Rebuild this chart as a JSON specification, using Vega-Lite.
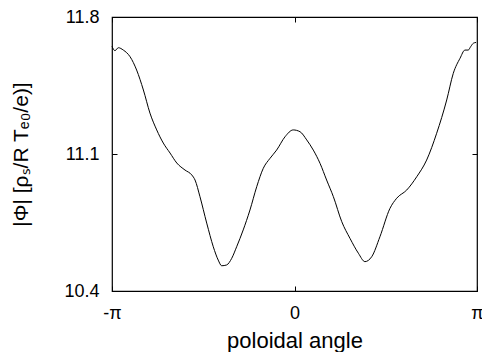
{
  "$schema": "https://vega.github.io/schema/vega-lite/v6.json",
  "autosize": "none",
  "width": 365,
  "height": 274,
  "padding": {"left": 112, "top": 17, "right": 5, "bottom": 61},
  "background": "white",
  "config": {
    "view": {"stroke": "#000", "strokeWidth": 1.2},
    "font": "Liberation Sans",
    "axis": {
      "domain": false,
      "grid": false,
      "tickColor": "#000",
      "tickSize": -5,
      "tickWidth": 1,
      "labelFont": "Liberation Sans",
      "labelFontSize": 18,
      "labelColor": "#000",
      "titleFont": "Liberation Sans",
      "titleFontSize": 21,
      "titleFontWeight": "normal",
      "titleColor": "#000",
      "labelFlush": false,
      "labelOverlap": false
    }
  },
  "data": {
    "values": [
      {"angle_over_pi": -1.000, "phi": 11.650},
      {"angle_over_pi": -0.984, "phi": 11.628},
      {"angle_over_pi": -0.965, "phi": 11.643},
      {"angle_over_pi": -0.938, "phi": 11.631},
      {"angle_over_pi": -0.901, "phi": 11.597},
      {"angle_over_pi": -0.865, "phi": 11.529},
      {"angle_over_pi": -0.828, "phi": 11.427},
      {"angle_over_pi": -0.792, "phi": 11.309},
      {"angle_over_pi": -0.755, "phi": 11.223},
      {"angle_over_pi": -0.719, "phi": 11.156},
      {"angle_over_pi": -0.682, "phi": 11.105},
      {"angle_over_pi": -0.645, "phi": 11.054},
      {"angle_over_pi": -0.600, "phi": 11.018},
      {"angle_over_pi": -0.563, "phi": 10.993},
      {"angle_over_pi": -0.545, "phi": 10.967},
      {"angle_over_pi": -0.518, "phi": 10.882},
      {"angle_over_pi": -0.481, "phi": 10.747},
      {"angle_over_pi": -0.445, "phi": 10.626},
      {"angle_over_pi": -0.418, "phi": 10.558},
      {"angle_over_pi": -0.399, "phi": 10.529},
      {"angle_over_pi": -0.372, "phi": 10.533},
      {"angle_over_pi": -0.344, "phi": 10.567},
      {"angle_over_pi": -0.317, "phi": 10.626},
      {"angle_over_pi": -0.281, "phi": 10.712},
      {"angle_over_pi": -0.244, "phi": 10.814},
      {"angle_over_pi": -0.207, "phi": 10.933},
      {"angle_over_pi": -0.171, "phi": 11.027},
      {"angle_over_pi": -0.134, "phi": 11.078},
      {"angle_over_pi": -0.098, "phi": 11.120},
      {"angle_over_pi": -0.052, "phi": 11.188},
      {"angle_over_pi": -0.007, "phi": 11.223},
      {"angle_over_pi": 0.030, "phi": 11.214},
      {"angle_over_pi": 0.067, "phi": 11.172},
      {"angle_over_pi": 0.103, "phi": 11.120},
      {"angle_over_pi": 0.140, "phi": 11.052},
      {"angle_over_pi": 0.176, "phi": 10.967},
      {"angle_over_pi": 0.213, "phi": 10.882},
      {"angle_over_pi": 0.259, "phi": 10.754},
      {"angle_over_pi": 0.304, "phi": 10.669},
      {"angle_over_pi": 0.350, "phi": 10.593},
      {"angle_over_pi": 0.386, "phi": 10.550},
      {"angle_over_pi": 0.423, "phi": 10.575},
      {"angle_over_pi": 0.468, "phi": 10.677},
      {"angle_over_pi": 0.523, "phi": 10.822},
      {"angle_over_pi": 0.560, "phi": 10.874},
      {"angle_over_pi": 0.615, "phi": 10.916},
      {"angle_over_pi": 0.670, "phi": 10.984},
      {"angle_over_pi": 0.724, "phi": 11.069},
      {"angle_over_pi": 0.779, "phi": 11.206},
      {"angle_over_pi": 0.834, "phi": 11.376},
      {"angle_over_pi": 0.870, "phi": 11.512},
      {"angle_over_pi": 0.907, "phi": 11.589},
      {"angle_over_pi": 0.934, "phi": 11.631},
      {"angle_over_pi": 0.952, "phi": 11.631},
      {"angle_over_pi": 0.965, "phi": 11.648},
      {"angle_over_pi": 0.980, "phi": 11.666},
      {"angle_over_pi": 0.995, "phi": 11.670}
    ]
  },
  "layer": [
    {
      "mark": {"type": "line", "color": "#000", "strokeWidth": 1, "interpolate": "monotone"},
      "encoding": {
        "x": {
          "field": "angle_over_pi",
          "type": "quantitative",
          "scale": {"domain": [-1, 1], "nice": false, "zero": false},
          "axis": {
            "orient": "bottom",
            "values": [-1, 0, 1],
            "labelExpr": "datum.value < -0.5 ? '-π' : (datum.value > 0.5 ? 'π' : '0')",
            "labelPadding": 18,
            "title": "poloidal angle",
            "titleFontSize": 22,
            "titleBaseline": "alphabetic",
            "titleY": 56,
            "titleX": 182.5,
            "titleAnchor": null
          }
        },
        "y": {
          "field": "phi",
          "type": "quantitative",
          "scale": {"domain": [10.4, 11.8], "nice": false, "zero": false},
          "axis": {
            "orient": "left",
            "values": [10.4, 11.1, 11.8],
            "format": ".1f",
            "labelPadding": 18,
            "title": "|Φ| [ρₛ/R Tₑ₀/e)]",
            "titleAngle": -90,
            "titleBaseline": "alphabetic",
            "titleX": -85,
            "titleY": 137,
            "titleAnchor": null
          }
        }
      }
    },
    {
      "mark": {"type": "line", "strokeOpacity": 0},
      "encoding": {
        "x": {
          "field": "angle_over_pi",
          "type": "quantitative",
          "axis": {"orient": "top", "values": [-1, 0, 1], "labels": false, "title": null}
        },
        "y": {
          "field": "phi",
          "type": "quantitative",
          "axis": {"orient": "right", "values": [10.4, 11.1, 11.8], "labels": false, "title": null}
        }
      }
    }
  ],
  "resolve": {"axis": {"x": "independent", "y": "independent"}}
}
